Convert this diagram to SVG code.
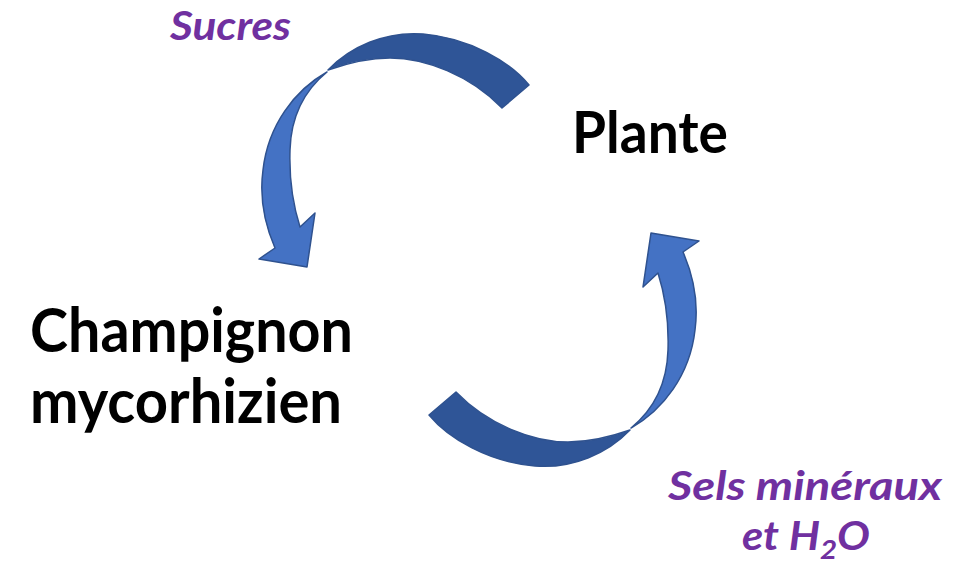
<svg xmlns="http://www.w3.org/2000/svg" width="971" height="570" viewBox="0 0 971 570">
<defs>
<style>
.dark{fill:#2F5597;stroke:#2F528F;stroke-width:1.5;stroke-linejoin:round}
.light{fill:#4472C4;stroke:#2F528F;stroke-width:1.5;stroke-linejoin:round}
.node{font-family:Lato,"Open Sans","Liberation Sans",sans-serif;font-weight:bold;fill:#000000}
.lbl{font-family:Lato,"Open Sans","Liberation Sans",sans-serif;font-weight:bold;font-style:italic;fill:#7030A0}
</style>
<g id="curvedArrow">
<path class="dark" d="M529,85 C510,62 470,38 423,34 C385,31 350,47 328,70 C345,64 365,58 390,58 C425,58 470,75 502,108 Z"/>
<path class="light" d="M327,72 C295,90 268,125 263,170 C259,200 265,225 275,248 L259,259 L307,267 L315,213 L300,227 C293,205 289,180 290,150 C291,115 305,90 327,72 Z"/>
</g>
</defs>
<rect width="971" height="570" fill="#ffffff"/>
<g id="connectors">
<use id="arrow-sucres" href="#curvedArrow"/>
<use id="arrow-sels" href="#curvedArrow" transform="rotate(180 479 250)"/>
</g>
<g id="node-plante">
<text class="node" x="572" y="153" font-size="57" textLength="156" lengthAdjust="spacingAndGlyphs">Plante</text>
</g>
<g id="node-champignon">
<text class="node" x="30" y="352" font-size="61" textLength="323" lengthAdjust="spacingAndGlyphs">Champignon</text>
<text class="node" x="30" y="423" font-size="61" textLength="312" lengthAdjust="spacingAndGlyphs">mycorhizien</text>
</g>
<g id="label-sucres">
<text class="lbl" x="170" y="40" font-size="40" textLength="121" lengthAdjust="spacingAndGlyphs">Sucres</text>
</g>
<g id="label-sels">
<text class="lbl" x="668" y="500" font-size="40" textLength="274" lengthAdjust="spacingAndGlyphs">Sels minéraux</text>
<text class="lbl" x="742" y="550" font-size="40" textLength="128" lengthAdjust="spacingAndGlyphs">et H<tspan font-size="27" dy="9">2</tspan><tspan dy="-9">O</tspan></text>
</g>
</svg>
